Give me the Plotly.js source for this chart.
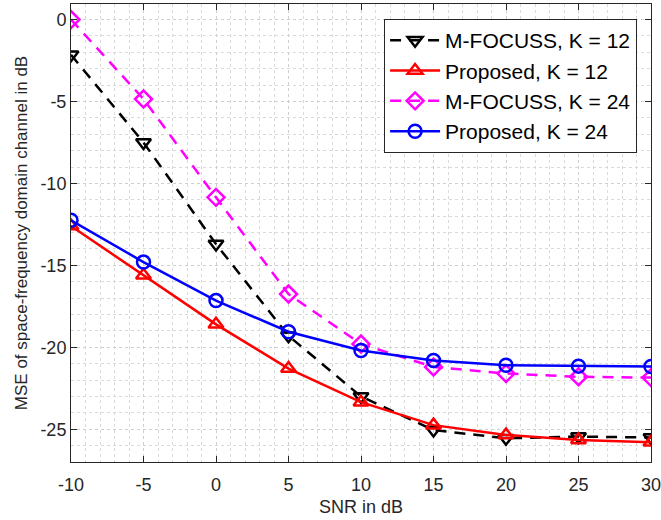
<!DOCTYPE html>
<html>
<head>
<meta charset="utf-8">
<script src="https://cdn.plot.ly/plotly-3.0.1.min.js"></script>
<style>html,body{margin:0;padding:0;background:#fff;}#chart{width:661px;height:520px;}</style>
</head>
<body>
<div id="chart"></div>
<script>
const snr = [-10, -5, 0, 5, 10, 15, 20, 25, 30];
const mfocussK12 = [-2.15, -7.5, -13.7, -19.3, -23.0, -25.05, -25.55, -25.45, -25.5];
const proposedK12 = [-12.6, -15.6, -18.6, -21.3, -23.35, -24.75, -25.35, -25.65, -25.8];
const mfocussK24 = [0.0, -4.85, -10.85, -16.75, -19.8, -21.2, -21.6, -21.8, -21.85];
const proposedK24 = [-12.25, -14.8, -17.15, -19.05, -20.2, -20.8, -21.1, -21.15, -21.17];
const names = ['M-FOCUSS, K = 12', 'Proposed, K = 12', 'M-FOCUSS, K = 24', 'Proposed, K = 24'];
const xTicks = [-10, -5, 0, 5, 10, 15, 20, 25, 30];
const yTicks = [0, -5, -10, -15, -20, -25];

const mk = (y, name, color, dash, symbol) => ({
  x: snr, y: y, name: name, type: 'scatter', mode: 'lines+markers',
  line: {color: color, width: 2.5, dash: dash},
  marker: {symbol: symbol, size: 13, color: color, line: {color: color, width: 2.5}}
});

const data = [
  mk(mfocussK12, names[0], '#000000', '11px,8px', 'triangle-down-open'),
  mk(proposedK12, names[1], '#ff0000', 'solid', 'triangle-up-open'),
  mk(mfocussK24, names[2], '#ff00ff', '11px,8px', 'diamond-open'),
  mk(proposedK24, names[3], '#0000ff', 'solid', 'circle-open')
];

const axCommon = {
  showline: true, linecolor: '#262626', linewidth: 1, mirror: 'ticks',
  ticks: 'inside', ticklen: 6, tickcolor: '#262626',
  showgrid: true, gridcolor: '#cfcfcf', griddash: 'dot', gridwidth: 1,
  zeroline: false, ticklabeloverflow: 'allow',
  tickfont: {family: 'Liberation Sans, Arial, sans-serif', size: 18, color: '#262626'}
};

const layout = {
  width: 661, height: 520,
  margin: {l: 71, r: 10, t: 4, b: 58},
  paper_bgcolor: '#ffffff', plot_bgcolor: '#ffffff',
  font: {family: 'Liberation Sans, Arial, sans-serif', color: '#262626'},
  xaxis: Object.assign({}, axCommon, {
    range: [-10, 30], tickvals: xTicks, ticktext: xTicks.map(String),
    ticklabelstandoff: 6,
    minor: {dtick: 1, showgrid: true, gridcolor: '#dadada', griddash: 'dot', gridwidth: 1, ticks: ''},
    title: {text: 'SNR in dB', font: {size: 18, color: '#262626'}, standoff: 6}
  }),
  yaxis: Object.assign({}, axCommon, {
    range: [-27, 0.95], tickvals: yTicks, ticktext: yTicks.map(String),
    minor: {dtick: 1, showgrid: true, gridcolor: '#dadada', griddash: 'dot', gridwidth: 1, ticks: ''},
    title: {text: 'MSE of space-frequency domain channel in dB', font: {size: 17, color: '#262626'}, standoff: 8}
  }),
  legend: {
    x: 0.976, y: 0.967, xanchor: 'right', yanchor: 'top',
    bgcolor: '#ffffff', bordercolor: '#262626', borderwidth: 1,
    font: {size: 21, color: '#000000'}, tracegroupgap: 0, itemwidth: 50
  },
  showlegend: true
};

Plotly.newPlot('chart', data, layout, {displayModeBar: false, staticPlot: true});
</script>
</body>
</html>
